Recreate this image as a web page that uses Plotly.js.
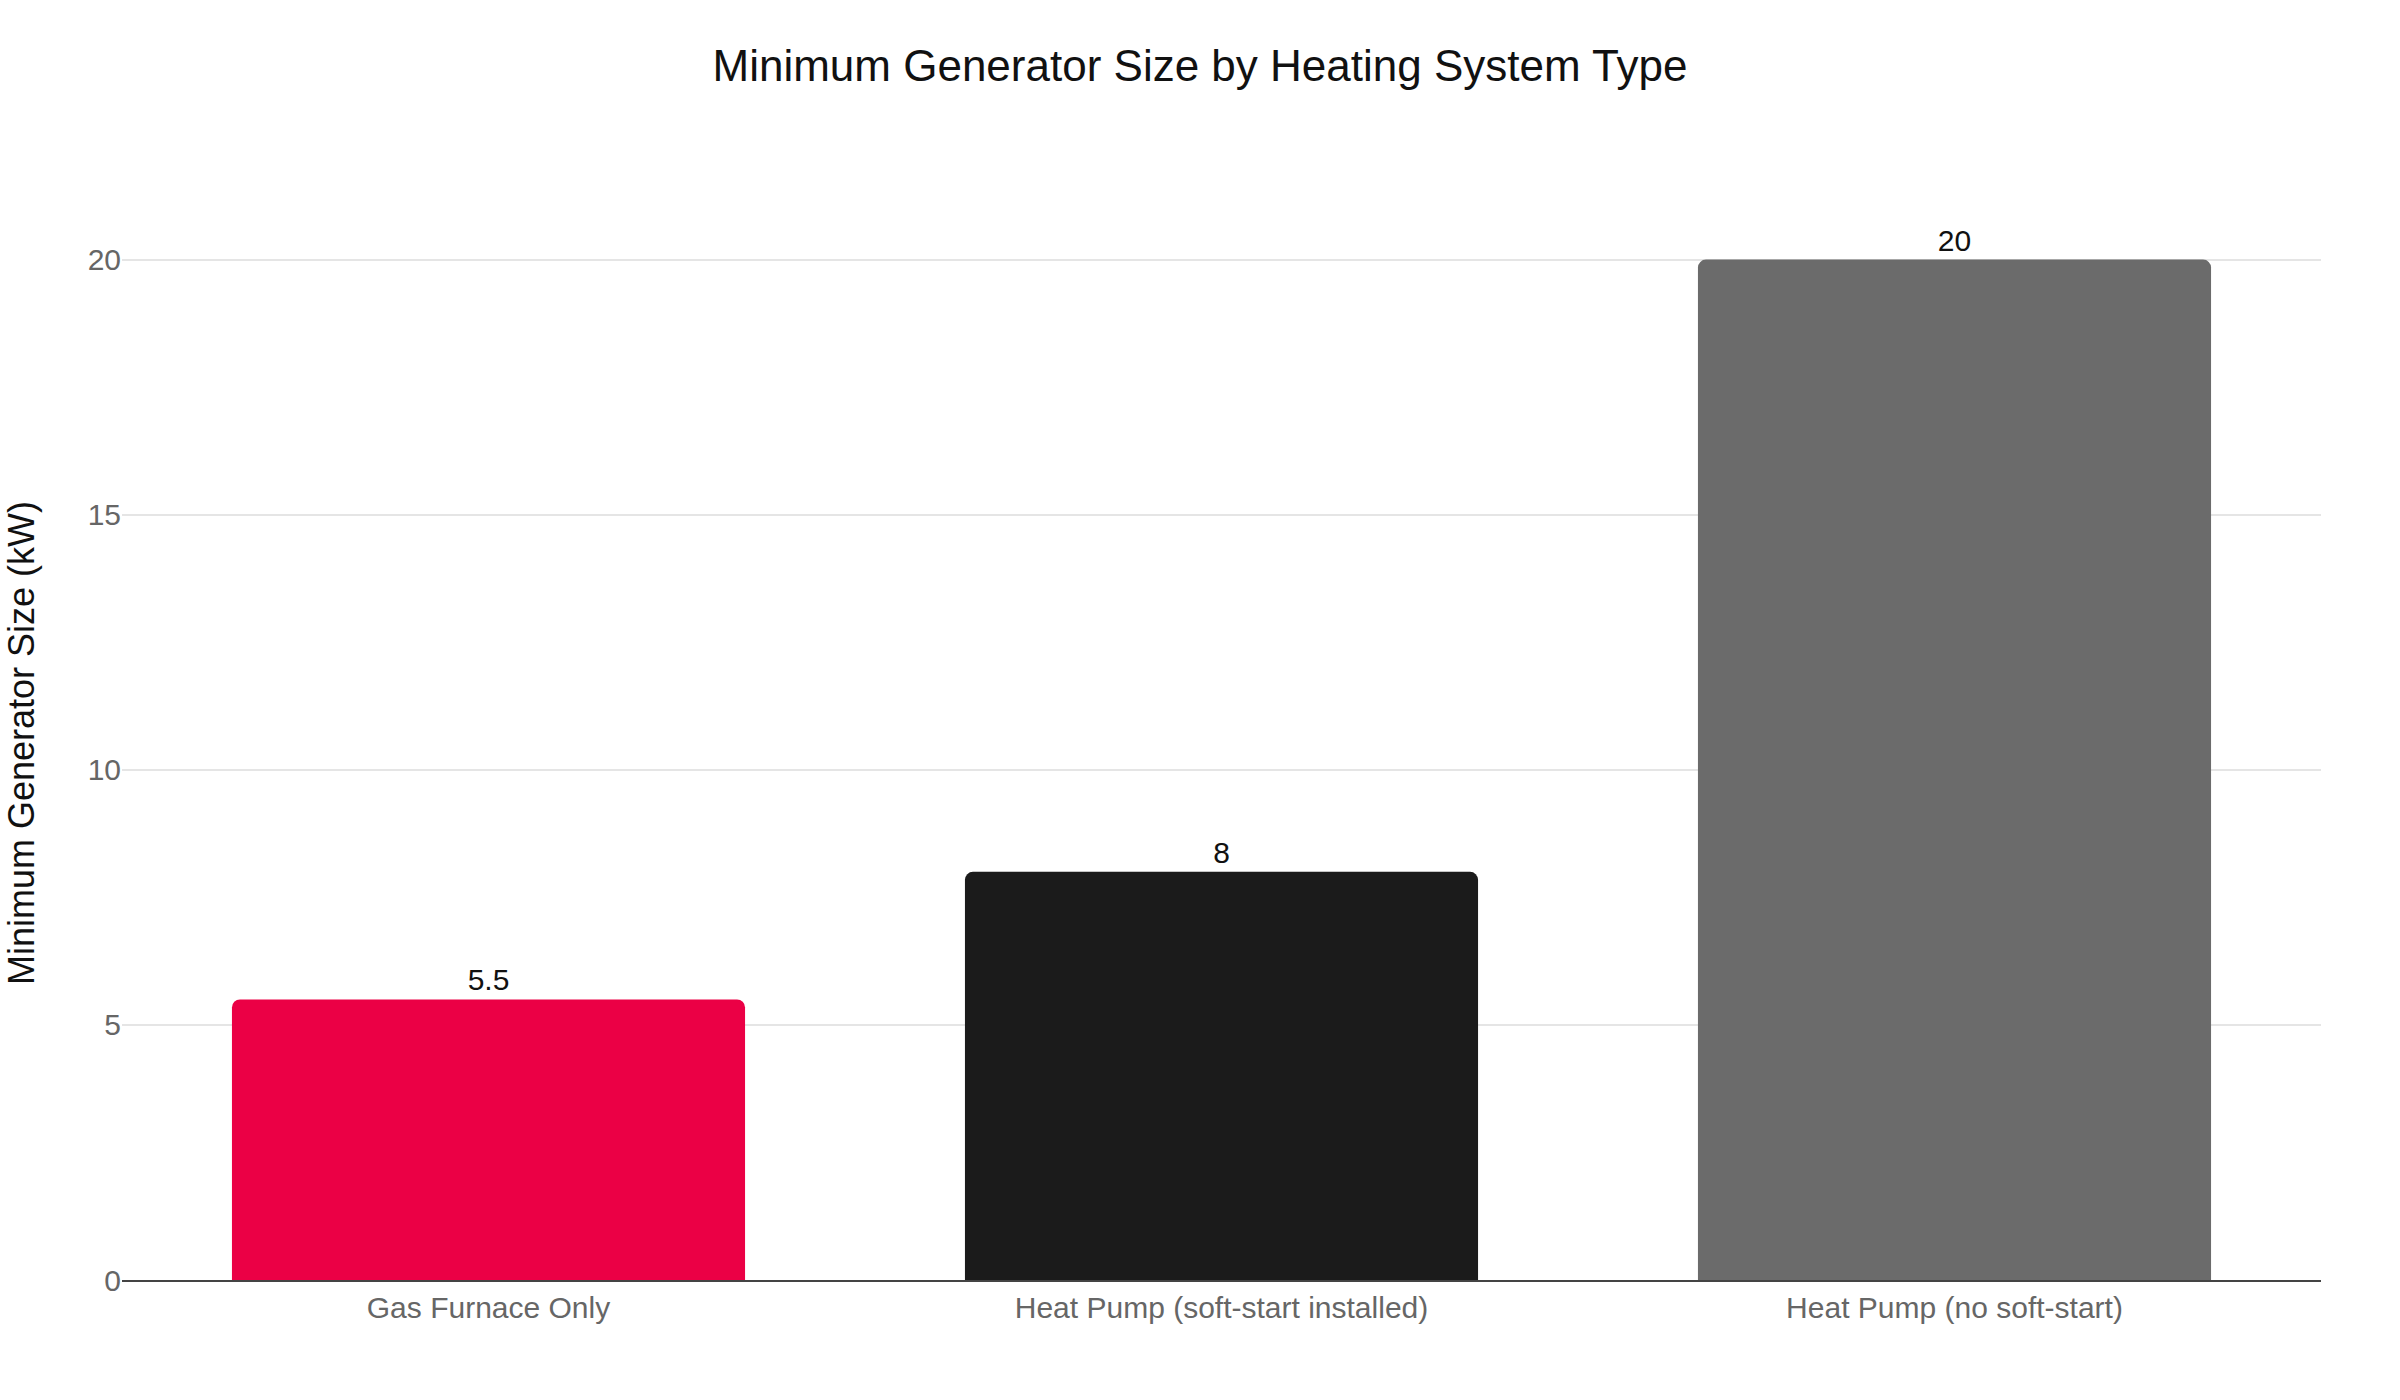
<!DOCTYPE html>
<html>
<head>
<meta charset="utf-8">
<script src="https://cdn.plot.ly/plotly-3.0.1.min.js"></script>
<style>
	body { margin: 0; background: #fff; }
	#chart { width: 2400px; height: 1400px; }
</style>
</head>
<body>
<div id="chart"></div>
<script>
// categories and values
var systemTypes = ["Gas Furnace Only", "Heat Pump (soft-start installed)", "Heat Pump (no soft-start)"];
var generatorKw = [5.5, 8, 20];
var barColours = ["#EB0045", "#1B1B1B", "#6B6B6B"];
var yTicks = [0, 5, 10, 15, 20];

var fontFamily = "'Liberation Sans', Arial, Helvetica, sans-serif";

var data = [
	{
		type: "bar",
		x: systemTypes,
		y: generatorKw,
		text: generatorKw.map(String),
		textposition: "outside",
		textfont: {family: fontFamily, size: 30, color: "#111111"},
		cliponaxis: false,
		marker: {color: barColours},
		hoverinfo: "x+y"
	}
];

var layout = {
	width: 2400,
	height: 1400,
	paper_bgcolor: "#ffffff",
	plot_bgcolor: "#ffffff",
	font: {family: fontFamily, size: 30, color: "#555555"},
	title: {
		text: "Minimum Generator Size by Heating System Type",
		font: {family: fontFamily, size: 44, color: "#111111"},
		x: 0.5,
		xanchor: "center",
		y: 0.953,
		yanchor: "middle"
	},
	margin: {l: 122, r: 79, t: 206, b: 120},
	bargap: 0.3,
	barcornerradius: 8,
	showlegend: false,
	xaxis: {
		type: "category",
		showgrid: false,
		showline: true,
		linecolor: "#444444",
		linewidth: 2,
		ticks: "",
		tickfont: {family: fontFamily, size: 30, color: "#666666"}
	},
	yaxis: {
		title: {
			text: "Minimum Generator Size (kW)",
			font: {family: fontFamily, size: 36, color: "#111111"},
			standoff: 42
		},
		automargin: true,
		range: [0, 21.05],
		tickvals: yTicks,
		showgrid: true,
		gridcolor: "#E5E5E5",
		gridwidth: 2,
		zeroline: false,
		showline: false,
		ticks: "",
		tickfont: {family: fontFamily, size: 30, color: "#666666"}
	}
};

Plotly.newPlot("chart", data, layout, {displayModeBar: false, staticPlot: true});
</script>
</body>
</html>
